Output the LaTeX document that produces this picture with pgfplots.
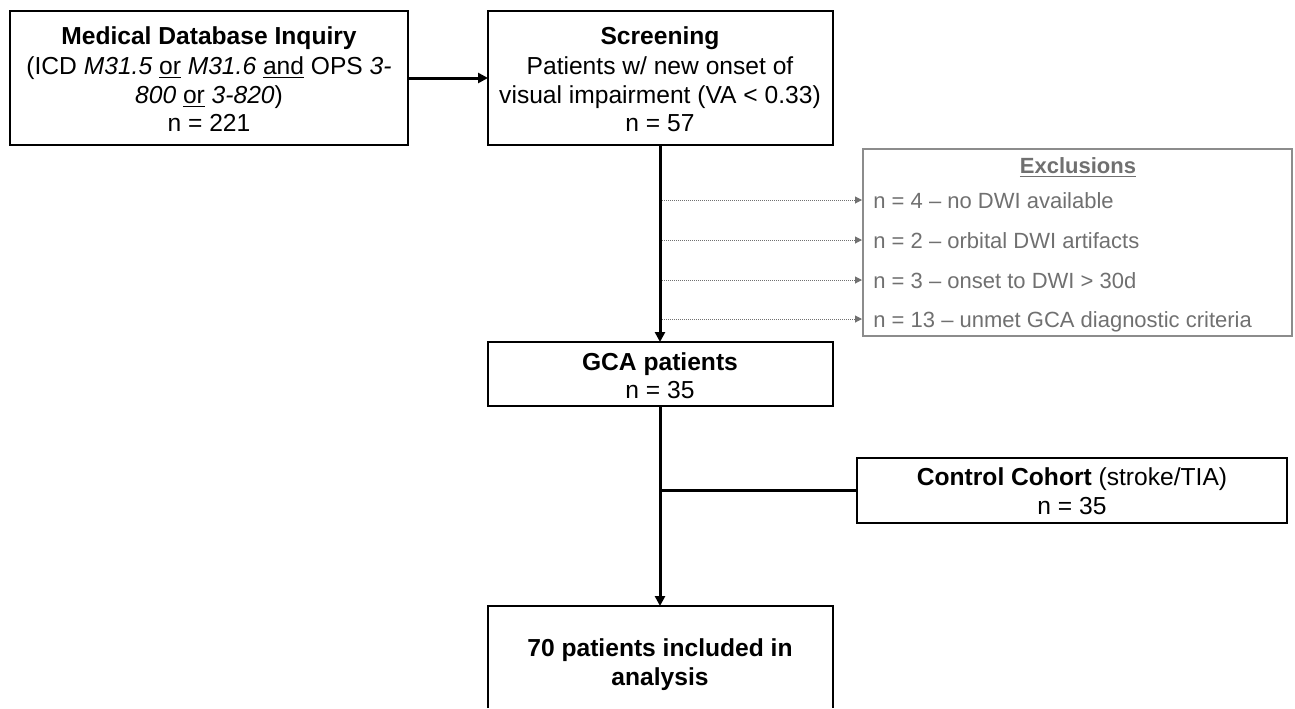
\documentclass[border=0pt]{standalone}
\usepackage{pgfplots}
\pgfplotsset{compat=1.18}
\usepackage{fontspec}
\setmainfont{Liberation Sans}
\usetikzlibrary{arrows.meta}
\definecolor{exgray}{RGB}{112,112,112}
\definecolor{exborder}{RGB}{140,140,140}
\newcommand{\mf}{\fontsize{12.3}{15}\selectfont}
\newcommand{\ef}{\fontsize{11}{13}\selectfont}
\begin{document}
\begin{tikzpicture}
\begin{axis}[name=ax, scale only axis, width=647.5pt, height=354pt,
  xmin=0, xmax=1295, ymin=0, ymax=708, y dir=reverse, hide axis, clip=false]
% boxes
\addplot[black, line width=0.75pt, line cap=rect, mark=none] coordinates {(10,11) (408,11) (408,145) (10,145) (10,11)};
\addplot[black, line width=0.75pt, line cap=rect, mark=none] coordinates {(488,11) (833,11) (833,145) (488,145) (488,11)};
\addplot[exborder, line width=0.65pt, line cap=rect, mark=none] coordinates {(863,149) (1292,149) (1292,336) (863,336) (863,149)};
\addplot[black, line width=0.75pt, line cap=rect, mark=none] coordinates {(488,342) (833,342) (833,406) (488,406) (488,342)};
\addplot[black, line width=0.75pt, line cap=rect, mark=none] coordinates {(857,458) (1287,458) (1287,523) (857,523) (857,458)};
\addplot[black, line width=0.75pt, mark=none] coordinates {(488,708) (488,606) (833,606) (833,708)};
% arrows
\addplot[black, line width=1.5pt, mark=none, -{Triangle[length=5pt,width=5pt]}] coordinates {(408,78) (488,78)};
\addplot[black, line width=1.5pt, mark=none, -{Triangle[length=5pt,width=5pt]}] coordinates {(660,145) (660,342)};
\addplot[black, line width=1.5pt, mark=none, -{Triangle[length=5pt,width=5pt]}] coordinates {(660,406) (660,606)};
\addplot[black, line width=1.5pt, mark=none] coordinates {(660,490) (857,490)};
% dotted exclusion arrows
\addplot[exgray, line width=0.5pt, dash pattern=on 0.5pt off 0.5pt, mark=none, -{Triangle[length=3.5pt,width=3.5pt]}] coordinates {(662,200) (862,200)};
\addplot[exgray, line width=0.5pt, dash pattern=on 0.5pt off 0.5pt, mark=none, -{Triangle[length=3.5pt,width=3.5pt]}] coordinates {(662,240) (862,240)};
\addplot[exgray, line width=0.5pt, dash pattern=on 0.5pt off 0.5pt, mark=none, -{Triangle[length=3.5pt,width=3.5pt]}] coordinates {(662,280) (862,280)};
\addplot[exgray, line width=0.5pt, dash pattern=on 0.5pt off 0.5pt, mark=none, -{Triangle[length=3.5pt,width=3.5pt]}] coordinates {(662,319) (862,319)};
% texts box 1
\node[anchor=base, font=\mf\bfseries, inner sep=0pt] at (axis cs:209,44) {Medical Database Inquiry};
\node[anchor=base, font=\mf, inner sep=0pt] at (axis cs:209,74) {(ICD \textit{M31.5} \underline{or} \textit{M31.6} \underline{and} OPS \textit{3-}};
\node[anchor=base, font=\mf, inner sep=0pt] at (axis cs:209,103) {\textit{800} \underline{or} \textit{3-820})};
\node[anchor=base, font=\mf, inner sep=0pt] at (axis cs:209,131) {n = 221};
% box 2
\node[anchor=base, font=\mf\bfseries, inner sep=0pt] at (axis cs:660,44) {Screening};
\node[anchor=base, font=\mf, inner sep=0pt] at (axis cs:660,74) {Patients w/ new onset of};
\node[anchor=base, font=\mf, inner sep=0pt] at (axis cs:660,103) {visual impairment (VA < 0.33)};
\node[anchor=base, font=\mf, inner sep=0pt] at (axis cs:660,131) {n = 57};
% exclusions
\node[anchor=base, font=\ef\bfseries, text=exgray, inner sep=0pt] at (axis cs:1078,173) {\underline{Exclusions}};
\node[anchor=base west, font=\ef, text=exgray, inner sep=0pt] at (axis cs:873,208) {n = 4 -- no DWI available};
\node[anchor=base west, font=\ef, text=exgray, inner sep=0pt] at (axis cs:873,248) {n = 2 -- orbital DWI artifacts};
\node[anchor=base west, font=\ef, text=exgray, inner sep=0pt] at (axis cs:873,288) {n = 3 -- onset to DWI > 30d};
\node[anchor=base west, font=\ef, text=exgray, inner sep=0pt] at (axis cs:873,327) {n = 13 -- unmet GCA diagnostic criteria};
% GCA
\node[anchor=base, font=\mf\bfseries, inner sep=0pt] at (axis cs:660,370) {GCA patients};
\node[anchor=base, font=\mf, inner sep=0pt] at (axis cs:660,398) {n = 35};
% control
\node[anchor=base, font=\mf, inner sep=0pt] at (axis cs:1072,485) {\textbf{Control Cohort} (stroke/TIA)};
\node[anchor=base, font=\mf, inner sep=0pt] at (axis cs:1072,514) {n = 35};
% bottom
\node[anchor=base, font=\mf\bfseries, inner sep=0pt] at (axis cs:660,656) {70 patients included in};
\node[anchor=base, font=\mf\bfseries, inner sep=0pt] at (axis cs:660,685) {analysis};
\end{axis}
\pgfresetboundingbox
\path (ax.south west) rectangle (ax.north east);
\end{tikzpicture}
\end{document}
